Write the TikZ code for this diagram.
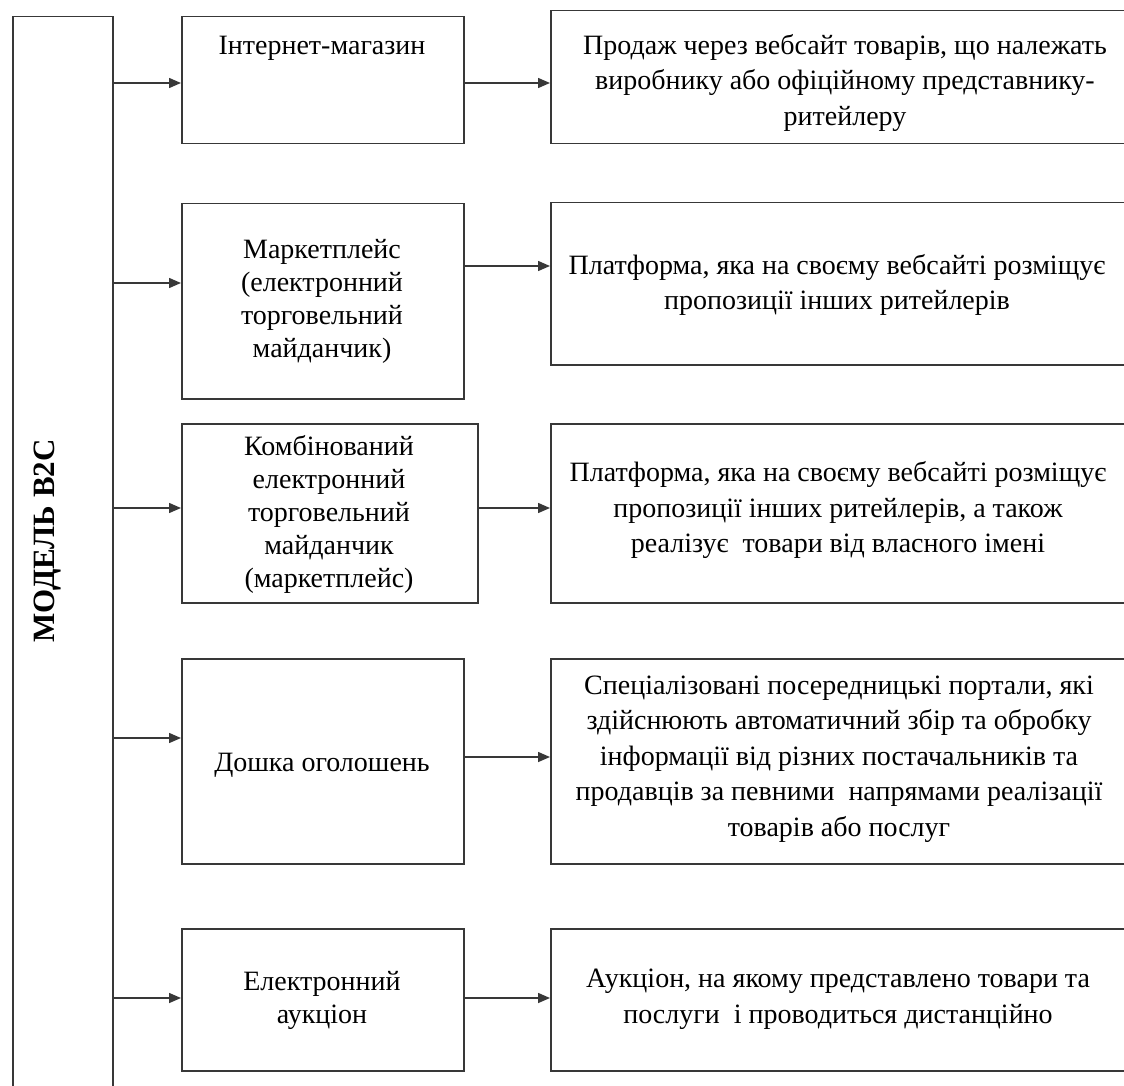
\documentclass[tikz,border=0pt]{standalone}
\usepackage{fontspec}
\setmainfont{Liberation Serif}
\usetikzlibrary{arrows.meta}
\begin{document}
\begin{tikzpicture}[x=1pt,y=-1pt,
  box/.style={draw=black!78, line width=1.5pt, rectangle, inner sep=0pt, anchor=north west},
  midtxt/.style={align=center, font=\fontsize{28}{33}\selectfont, inner sep=0pt},
  righttxt/.style={align=center, font=\fontsize{28}{35.5}\selectfont, inner sep=0pt},
  arr/.style={draw=black!78, line width=1.5pt, -{Triangle[length=12pt,width=10pt]}}]
\useasboundingbox (0,0) rectangle (1124,1086);
\clip (0,0) rectangle (1124,1086);
% left box
\node[box, minimum width=100pt, minimum height=1120pt] (lb) at (12,16) {};
\node[rotate=90, font=\fontsize{31}{33}\selectfont\bfseries, inner sep=0pt] (lbt) at (48,541) {МОДЕЛЬ В2С};
% middle boxes
\node[box, minimum width=282pt, minimum height=127pt] (m1) at (181,16) {};
\node[box, minimum width=282pt, minimum height=195pt] (m2) at (181,203) {};
\node[box, minimum width=296pt, minimum height=179pt] (m3) at (181,423) {};
\node[box, minimum width=282pt, minimum height=205pt] (m4) at (181,658) {};
\node[box, minimum width=282pt, minimum height=142pt] (m5) at (181,928) {};
% right boxes
\node[box, minimum width=600pt, minimum height=133pt] (r1) at (550,10) {};
\node[box, minimum width=600pt, minimum height=162pt] (r2) at (550,202) {};
\node[box, minimum width=600pt, minimum height=179pt] (r3) at (550,423) {};
\node[box, minimum width=600pt, minimum height=205pt] (r4) at (550,658) {};
\node[box, minimum width=600pt, minimum height=142pt] (r5) at (550,928) {};
% middle texts
\node[midtxt] (m1t) at (322,48) {Інтернет-магазин};
\node[midtxt] (m2t) at (322,301) {Маркетплейс\\(електронний\\торговельний\\майданчик)};
\node[midtxt] (m3t) at (329,514) {Комбінований\\електронний\\торговельний\\майданчик\\(маркетплейс)};
\node[midtxt] (m4t) at (322,765) {Дошка оголошень};
\node[midtxt] (m5t) at (322,1000) {Електронний\\аукціон};
% right texts
\node[righttxt] (r1t) at (845,83) {Продаж через вебсайт товарів, що належать\\виробнику або офіційному представнику-\\ритейлеру};
\node[righttxt] (r2t) at (837,285) {Платформа, яка на своєму вебсайті розміщує\\пропозиції інших ритейлерів};
\node[righttxt] (r3t) at (838,510) {Платформа, яка на своєму вебсайті розміщує\\пропозиції інших ритейлерів, а також\\реалізує\ \ товари від власного імені};
\node[righttxt] (r4t) at (839,759) {Спеціалізовані посередницькі портали, які\\здійснюють автоматичний збір та обробку\\інформації від різних постачальників та\\продавців за певними\ \ напрямами реалізації\\товарів або послуг};
\node[righttxt] (r5t) at (838,999) {Аукціон, на якому представлено товари та\\послуги\ \ і проводиться дистанційно};
% arrow levels
\coordinate (l1) at (0,83);
\coordinate (l2) at (0,283);
\coordinate (l3) at (0,508);
\coordinate (l4) at (0,738);
\coordinate (l5) at (0,998);
\coordinate (k1) at (0,83);
\coordinate (k2) at (0,266);
\coordinate (k3) at (0,508);
\coordinate (k4) at (0,757);
\coordinate (k5) at (0,998);
% arrows from trunk
\draw[arr] (lb.east |- l1) -- (m1.west |- l1);
\draw[arr] (lb.east |- l2) -- (m2.west |- l2);
\draw[arr] (lb.east |- l3) -- (m3.west |- l3);
\draw[arr] (lb.east |- l4) -- (m4.west |- l4);
\draw[arr] (lb.east |- l5) -- (m5.west |- l5);
% arrows to descriptions
\draw[arr] (m1.east |- k1) -- (r1.west |- k1);
\draw[arr] (m2.east |- k2) -- (r2.west |- k2);
\draw[arr] (m3.east |- k3) -- (r3.west |- k3);
\draw[arr] (m4.east |- k4) -- (r4.west |- k4);
\draw[arr] (m5.east |- k5) -- (r5.west |- k5);
\end{tikzpicture}
\end{document}
